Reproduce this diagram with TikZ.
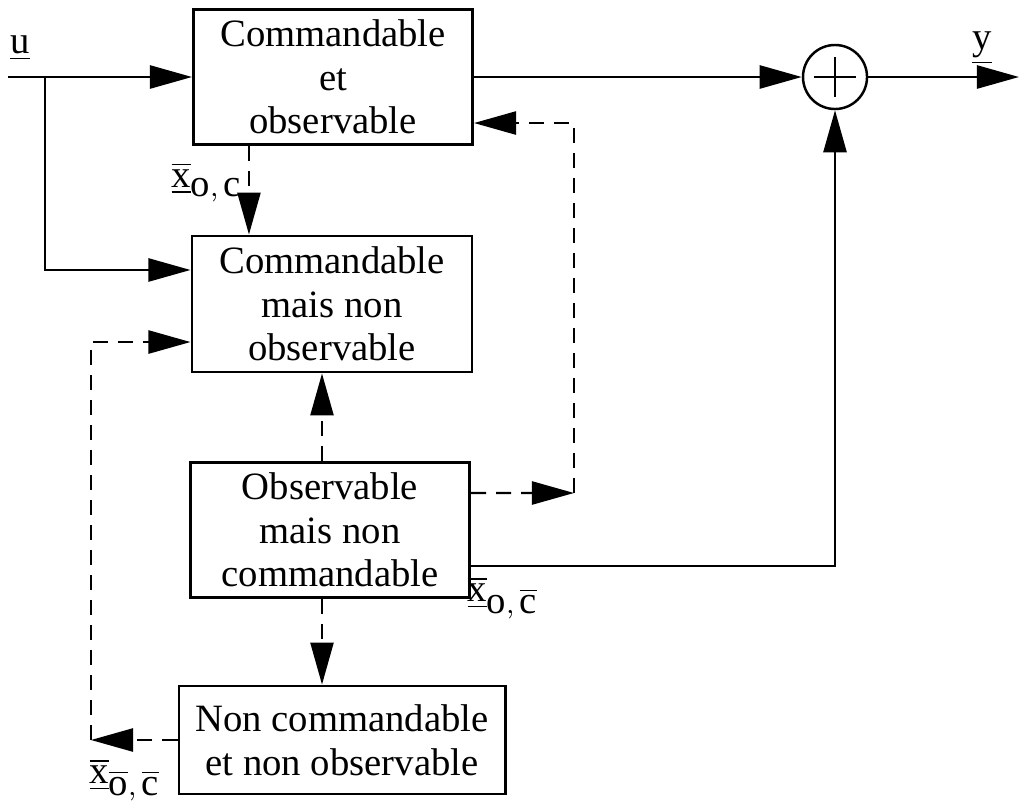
\documentclass[tikz,border=0pt]{standalone}
\usepackage{fontspec}
\setmainfont{Liberation Serif}
\usepackage{tikz}
\usetikzlibrary{arrows.meta,positioning}

\begin{document}
\begin{tikzpicture}[
  x=0.01cm, y=-0.01cm,
  line width=0.7pt,
  >={Triangle[length=4.2mm,width=2.3mm]},
  bloc/.style={
    draw,
    rectangle,
    line width=0.8pt,
    align=center,
    inner sep=0pt,
    font=\fontsize{11}{12.4}\selectfont
    },
  pointille/.style={dash pattern=on 1.5mm off 1mm},
  etiquette/.style={inner sep=0pt, font=\fontsize{11}{13}\selectfont}
]
\useasboundingbox (0,0) rectangle (1019,803);

% les quatre sous-systemes
\node[bloc, minimum width=2.79cm, minimum height=1.35cm] (co) at (333,77)
  {Commandable\\et\\observable};
\node[bloc, minimum width=2.80cm, minimum height=1.36cm] (cno) at (332,304)
  {Commandable\\mais non\\observable};
\node[bloc, minimum width=2.79cm, minimum height=1.35cm] (onc) at (330,530)
  {Observable\\mais non\\commandable};
\node[bloc, minimum width=3.26cm, minimum height=1.08cm] (ncno) at (342,740)
  {Non commandable\\et non observable};

% sommateur
\node[draw, circle, minimum size=0.64cm, inner sep=0pt] (somme) at (835,77) {};
\draw ([xshift=-0.21cm]somme.center) -- ([xshift=0.21cm]somme.center);
\draw ([yshift=-0.2cm]somme.center) -- ([yshift=0.2cm]somme.center);

\coordinate (entree) at (8,77);
\coordinate (noeud) at (45,77);
\coordinate (sortie) at (1019,77);
\coordinate (coinD) at (574,493);
\coordinate (coinG) at (91,740);

\node[etiquette] (u) at (20,48) {$\underline{\textrm{u}}$};
\node[etiquette] (y) at (982,48) {$\underline{\textrm{y}}$};

% liaisons pleines
\draw (entree) -- (noeud);
\draw[->] (noeud) -- (co.west);
\draw[->] (noeud) |- ([yshift=0.34cm]cno.west);
\draw[->] (co.east) -- (somme.west);
\draw[->] (somme.east) -- (sortie);
\draw[->] ([yshift=-0.36cm]onc.east) -| (somme.south);

% liaisons pointillees
\draw[pointille,->] ([xshift=-0.84cm]co.south) -- ([xshift=-0.84cm]co.south |- cno.north);
\draw[pointille,->] ([xshift=-0.08cm]onc.north) -- ([xshift=-0.08cm]onc.north |- cno.south);
\draw[pointille,->] ([xshift=-0.08cm]onc.south) -- ([xshift=-0.08cm]onc.south |- ncno.north);
\draw[pointille,->] ([yshift=0.37cm]onc.east) -- (coinD);
\draw[pointille,->] (coinD) |- ([yshift=-0.46cm]co.east);
\draw[pointille,->] (ncno.west) -- (coinG);
\draw[pointille,->] (coinG) |- ([yshift=-0.38cm]cno.west);

% etats
\node[etiquette] (xoc) at (207,182)
  {$\underline{\overline{\textrm{x}}}_{\textrm{o},\,\textrm{c}}$};
\node[etiquette] (xocb) at (503,598)
  {$\underline{\overline{\textrm{x}}}_{\textrm{o},\,\overline{\textrm{c}}}$};
\node[etiquette] (xobcb) at (125,780)
  {$\underline{\overline{\textrm{x}}}_{\overline{\textrm{o}},\,\overline{\textrm{c}}}$};

\end{tikzpicture}
\end{document}
